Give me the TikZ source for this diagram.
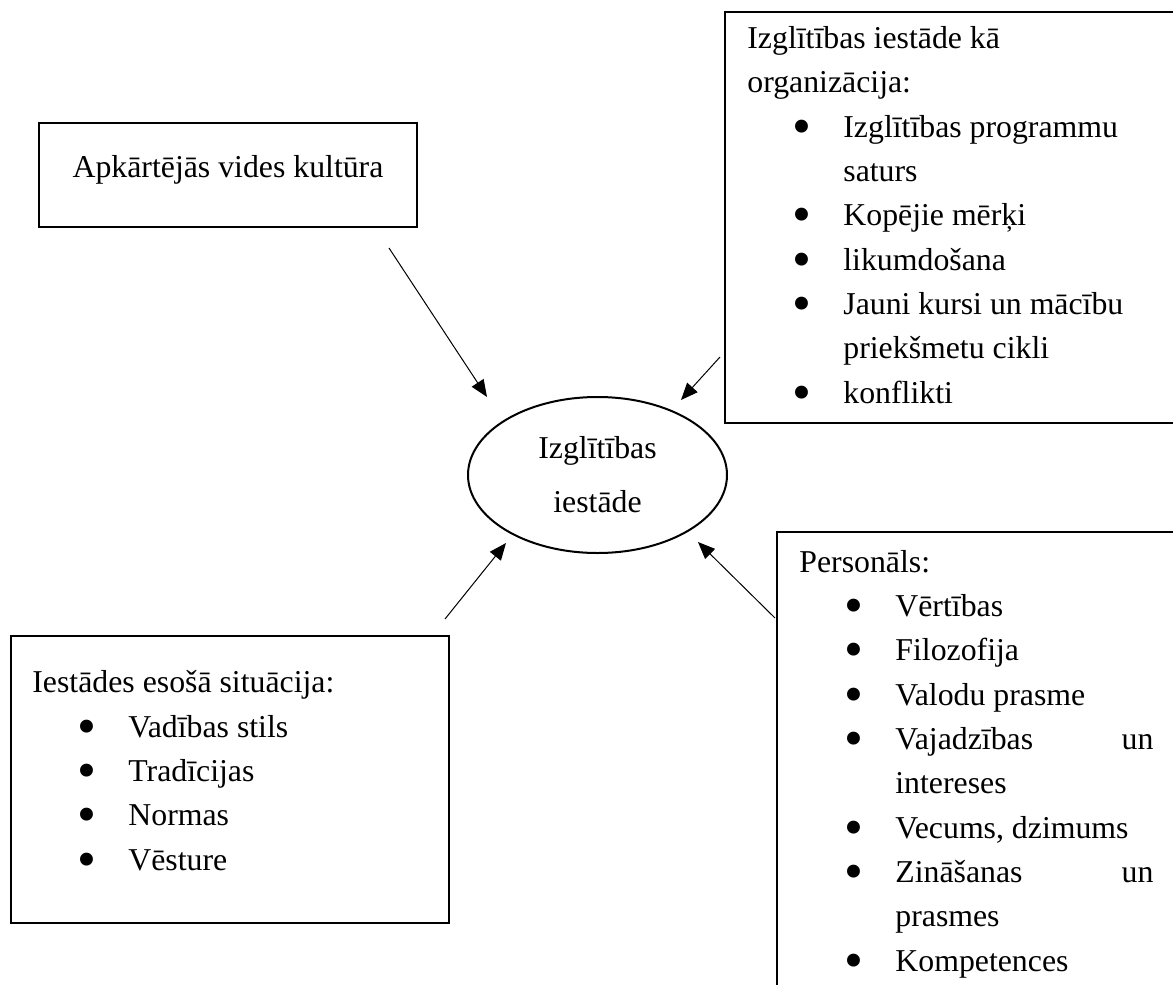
\documentclass[tikz,border=0pt]{standalone}
\usepackage{fontspec}
\setmainfont{Liberation Serif}
\usetikzlibrary{arrows.meta,shapes.geometric}
\newcommand{\itm}{\hspace*{22.7pt}\makebox[25.3pt][l]{\raisebox{-3.5pt}{\scalebox{1.7}{•}}}}
\newcommand{\cnt}{\hspace*{48pt}}
\tikzset{
  box/.style={draw,line width=1.2pt,rectangle,inner sep=0pt},
  listtext/.style={align=left,anchor=base west,inner sep=0pt,font=\fontsize{15.9pt}{22.15pt}\selectfont},
  infl/.style={-{Triangle[length=8.5pt,width=7pt]},line width=0.5pt},
}
\begin{document}
\begin{tikzpicture}[x=0.5pt,y=-0.5pt]
  \useasboundingbox (0,0) rectangle (1173,985);
  \clip (0,0) rectangle (1173,985);
  % centre
  \node[draw,ellipse,line width=1pt,inner sep=0pt,minimum width=129.5pt,minimum height=78pt,align=center,
        font=\fontsize{15.9pt}{27pt}\selectfont] (school) at (597.5,475) {Izglītības\\iestāde};
  % boxes (text nodes sit on the baseline of their last line)
  \node[box,minimum width=189pt,minimum height=52pt] (env) at (228,175) {};
  \node[anchor=base,inner sep=0pt,font=\fontsize{15.9pt}{22.15pt}\selectfont] (envtxt) at (228,177) {Apkārtējās vides kultūra};
  \node[box,minimum width=232.5pt,minimum height=205.5pt] (org) at (957.5,217.5) {};
  \node[listtext] (orgtxt) at (747,403) {Izglītības iestāde kā\\organizācija:\\\itm Izglītības programmu\\\cnt saturs\\\itm Kopējie mērķi\\\itm likumdošana\\\itm Jauni kursi un mācību\\\cnt priekšmetu cikli\\\itm konflikti};
  \node[box,minimum width=219pt,minimum height=143.5pt] (sit) at (230,779.5) {};
  \node[listtext] (sittxt) at (32,870) {Iestādes esošā situācija:\\\itm Vadības stils\\\itm Tradīcijas\\\itm Normas\\\itm Vēsture};
  \node[box,minimum width=206.5pt,minimum height=239pt] (staff) at (983.5,771) {};
  \node[listtext] (stafftxt) at (799,971) {Personāls:\\\itm Vērtības\\\itm Filozofija\\\itm Valodu prasme\\\itm \makebox[129pt][l]{Vajadzības\hfill un}\\\cnt intereses\\\itm Vecums, dzimums\\\itm \makebox[129pt][l]{Zināšanas\hfill un}\\\cnt prasmes\\\itm Kompetences};
  % arrows
  \coordinate (e1) at (389,248);  \coordinate (t1) at (487,397);
  \coordinate (e2) at (720,357);  \coordinate (t2) at (681,400);
  \coordinate (e3) at (445,619);  \coordinate (t3) at (506,543);
  \coordinate (e4) at (775,618);  \coordinate (t4) at (698,542);
  \draw[infl] (e1) -- (t1);
  \draw[infl] (e2) -- (t2);
  \draw[infl] (e3) -- (t3);
  \draw[infl] (e4) -- (t4);
\end{tikzpicture}
\end{document}
